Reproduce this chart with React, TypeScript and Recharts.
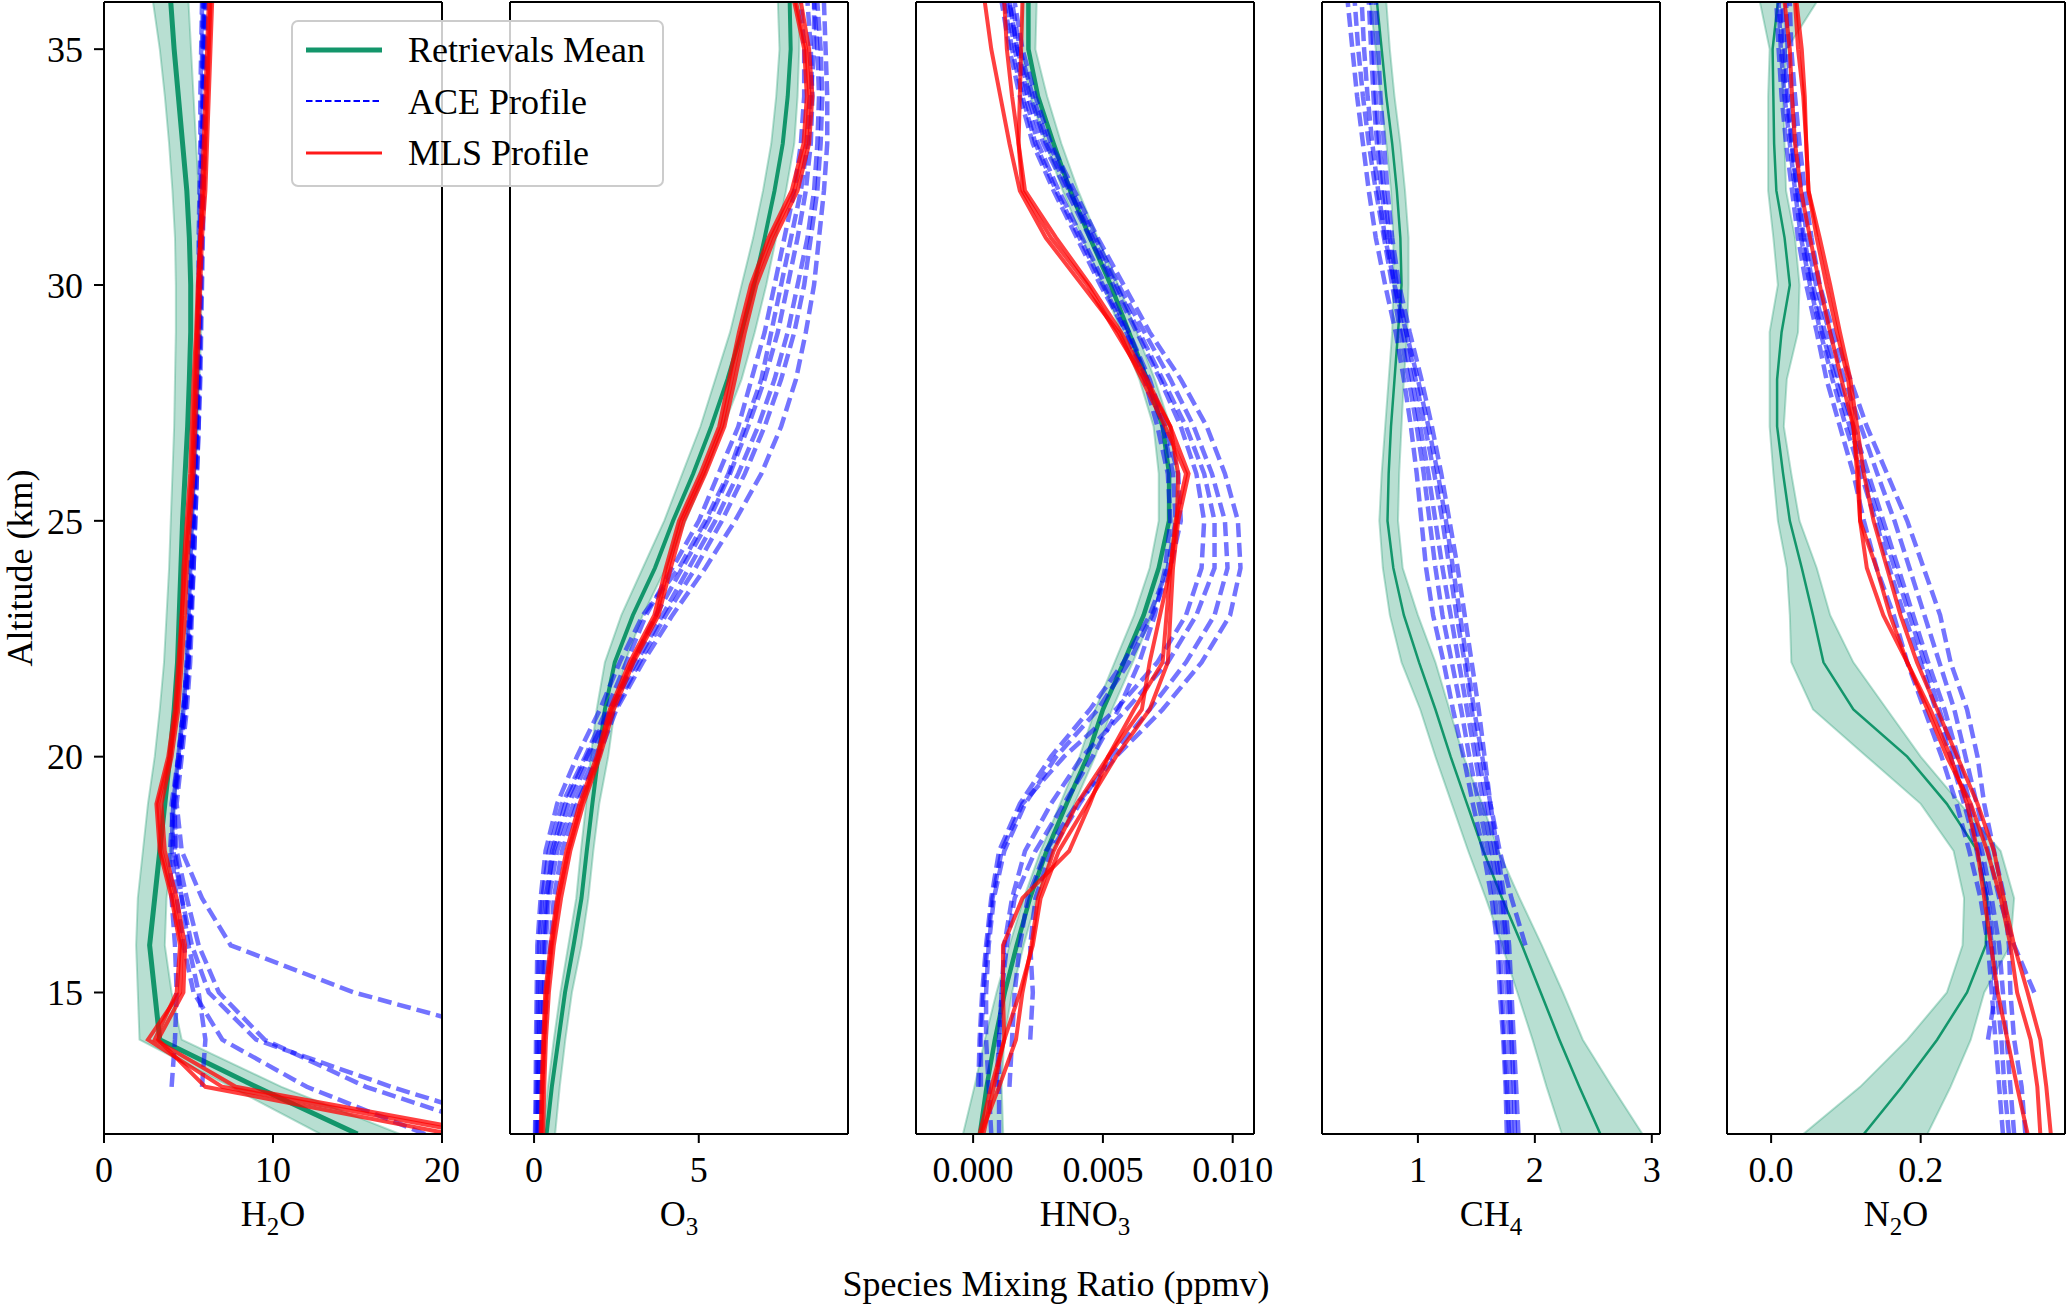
import React from 'react';
import { Area, ComposedChart, Line, XAxis, YAxis } from 'recharts';

const FONT = '"Liberation Serif", "Times New Roman", serif';
const GREEN = '#13966b';
const BLUE = '#0000ff';
const RED = '#ff0000';

// altitude grid (km), bottom to top
const altitudes = [12, 13, 14, 15, 16, 17, 18, 19, 20, 21, 22, 23, 24, 25, 26, 27, 28, 29, 30, 31, 32, 33, 34, 35, 36];
const altitudeTicks = [15, 20, 25, 30, 35];

// H2O (ppmv)
const h2oMean = [15.0, 9.0, 3.3, 3.0, 2.7, 3.0, 3.3, 3.6, 3.9, 4.15, 4.35, 4.45, 4.55, 4.65, 4.8, 4.95, 5.05, 5.13, 5.13, 5.05, 4.9, 4.65, 4.4, 4.15, 3.95];
const h2oLo = [12.8, 7.5, 2.1, 2.0, 1.9, 2.0, 2.3, 2.6, 3.0, 3.3, 3.55, 3.7, 3.85, 3.95, 4.05, 4.15, 4.2, 4.25, 4.25, 4.2, 4.05, 3.85, 3.6, 3.3, 2.9];
const h2oHi = [17.5, 10.5, 4.6, 4.0, 3.6, 3.7, 4.0, 4.2, 4.4, 4.7, 4.9, 5.0, 5.1, 5.25, 5.4, 5.55, 5.65, 5.75, 5.75, 5.7, 5.6, 5.45, 5.3, 5.15, 5.0];
const h2oAce1 = [null, null, 25, 14.8, 7.5, 5.8, 4.6, 4.3, 4.6, 4.9, 5.1, 5.2, 5.3, 5.4, 5.5, 5.6, 5.65, 5.7, 5.75, 5.8, 5.85, 5.9, 5.9, 5.95, 6.0];
const h2oAce2 = [24, 15.5, 9.5, 6.8, 5.6, 4.9, 4.3, 4.1, 4.5, 4.8, 5.0, 5.1, 5.2, 5.3, 5.4, 5.5, 5.55, 5.6, 5.65, 5.7, 5.75, 5.8, 5.85, 5.85, 5.9];
const h2oAce3 = [26, 17, 9.0, 6.2, 5.2, 4.6, 4.1, 4.0, 4.4, 4.7, 4.9, 5.05, 5.15, 5.25, 5.35, 5.45, 5.5, 5.55, 5.6, 5.65, 5.7, 5.75, 5.8, 5.8, 5.85];
const h2oAce4 = [null, 4.0, 4.2, 4.3, 4.2, 4.0, 3.9, 4.1, 4.4, 4.7, 4.95, 5.1, 5.2, 5.3, 5.4, 5.5, 5.6, 5.65, 5.7, 5.75, 5.8, 5.85, 5.9, 5.9, 5.95];
const h2oAce5 = [null, 5.8, 6.0, 5.6, 5.0, 4.6, 4.2, 4.2, 4.5, 4.8, 5.0, 5.15, 5.3, 5.4, 5.5, 5.6, 5.7, 5.75, 5.8, 5.85, 5.9, 5.95, 6.0, 6.0, 6.05];
const h2oAce6 = [19, 12, 7.0, 5.3, 4.7, 4.3, 4.0, 4.1, 4.4, 4.7, 4.9, 5.0, 5.1, 5.2, 5.3, 5.4, 5.5, 5.55, 5.6, 5.6, 5.65, 5.7, 5.7, 5.75, 5.8];
const h2oMls1 = [22, 7.0, 2.6, 4.5, 4.6, 4.1, 3.4, 3.2, 3.9, 4.3, 4.5, 4.6, 4.8, 5.0, 5.2, 5.3, 5.4, 5.5, 5.6, 5.7, 5.8, 5.9, 6.0, 6.1, 6.2];
const h2oMls2 = [20.5, 6.0, 3.2, 4.7, 4.8, 4.3, 3.6, 3.4, 4.0, 4.4, 4.6, 4.8, 4.9, 5.1, 5.3, 5.4, 5.5, 5.6, 5.7, 5.8, 6.0, 6.1, 6.2, 6.3, 6.4];
const h2oMls3 = [23, 7.8, 3.0, 4.3, 4.5, 4.0, 3.3, 3.1, 3.8, 4.2, 4.4, 4.6, 4.7, 4.9, 5.1, 5.2, 5.3, 5.45, 5.55, 5.7, 5.9, 6.0, 6.1, 6.2, 6.3];

// O3 (ppmv)
const o3Mean = [0.38, 0.54, 0.74, 0.94, 1.2, 1.44, 1.6, 1.77, 1.95, 2.15, 2.45, 3.0, 3.67, 4.22, 4.83, 5.38, 5.87, 6.3, 6.68, 7.0, 7.3, 7.55, 7.7, 7.79, 7.76];
const o3Lo = [0.28, 0.42, 0.6, 0.8, 1.04, 1.28, 1.42, 1.58, 1.72, 1.9, 2.15, 2.65, 3.3, 3.95, 4.5, 5.05, 5.5, 5.95, 6.3, 6.65, 6.95, 7.2, 7.35, 7.45, 7.4];
const o3Hi = [0.64, 0.78, 0.95, 1.15, 1.44, 1.65, 1.8, 1.98, 2.25, 2.45, 2.76, 3.3, 4.0, 4.6, 5.2, 5.75, 6.3, 6.7, 7.05, 7.35, 7.65, 7.9, 8.0, 8.05, 8.06];
const o3Ace1 = [0.05, 0.08, 0.1, 0.12, 0.15, 0.25, 0.45, 0.85, 1.55, 2.2, 2.8, 3.4, 4.2, 5.0, 5.6, 6.2, 6.6, 7.0, 7.3, 7.6, 7.9, 8.1, 8.2, 8.2, 8.1];
const o3Ace2 = [0.1, 0.12, 0.15, 0.2, 0.25, 0.35, 0.6, 1.05, 1.7, 2.35, 3.0, 3.7, 4.5, 5.3, 5.95, 6.5, 7.0, 7.4, 7.7, 8.0, 8.25, 8.4, 8.45, 8.4, 8.3];
const o3Ace3 = [0.15, 0.2, 0.25, 0.3, 0.35, 0.45, 0.7, 1.2, 1.85, 2.45, 3.2, 4.0, 4.9, 5.7, 6.4, 7.0, 7.5, 7.9, 8.2, 8.4, 8.6, 8.7, 8.75, 8.7, 8.6];
const o3Ace4 = [0.2, 0.25, 0.3, 0.4, 0.5, 0.6, 0.85, 1.3, 1.95, 2.5, 3.3, 4.2, 5.2, 6.1, 6.9, 7.5, 7.95, 8.25, 8.5, 8.65, 8.8, 8.9, 8.9, 8.85, 8.8];
const o3Ace5 = [0.03, 0.05, 0.06, 0.08, 0.1, 0.2, 0.35, 0.7, 1.3, 2.0, 2.6, 3.3, 4.4, 5.2, 5.9, 6.4, 6.9, 7.2, 7.5, 7.8, 8.1, 8.3, 8.4, 8.5, 8.5];
const o3Ace6 = [0.12, 0.15, 0.2, 0.25, 0.3, 0.4, 0.55, 0.95, 1.6, 2.3, 3.1, 3.9, 4.7, 5.5, 6.2, 6.8, 7.3, 7.7, 8.0, 8.3, 8.5, 8.6, 8.65, 8.6, 8.5];
const o3Mls1 = [0.23, 0.26, 0.31, 0.38, 0.54, 0.74, 1.04, 1.44, 1.95, 2.35, 2.96, 3.72, 4.07, 4.47, 5.13, 5.7, 6.0, 6.3, 6.65, 7.2, 7.9, 8.26, 8.36, 8.26, 7.95];
const o3Mls2 = [0.28, 0.31, 0.36, 0.45, 0.6, 0.82, 1.1, 1.5, 2.0, 2.42, 3.02, 3.78, 4.15, 4.55, 5.2, 5.78, 6.1, 6.4, 6.75, 7.3, 8.0, 8.35, 8.45, 8.35, 8.1];
const o3Mls3 = [0.2, 0.23, 0.28, 0.34, 0.5, 0.7, 0.98, 1.38, 1.9, 2.3, 2.9, 3.65, 4.0, 4.4, 5.05, 5.62, 5.92, 6.22, 6.58, 7.12, 7.82, 8.18, 8.28, 8.2, 7.9];

// HNO3 (1e-3 ppmv)
const hno3Mean = [0.26, 0.52, 0.84, 1.22, 1.68, 2.19, 2.83, 3.6, 4.4, 5.0, 5.8, 6.57, 7.15, 7.55, 7.55, 7.3, 6.7, 6.0, 5.3, 4.5, 3.74, 3.1, 2.5, 2.13, 2.13];
const hno3Lo = [-0.39, 0.05, 0.45, 0.9, 1.4, 1.95, 2.6, 3.35, 4.1, 4.7, 5.45, 6.2, 6.8, 7.15, 7.15, 6.95, 6.4, 5.7, 5.0, 4.2, 3.45, 2.8, 2.2, 1.85, 1.9];
const hno3Hi = [1.16, 1.1, 1.2, 1.5, 1.95, 2.45, 3.1, 3.9, 4.7, 5.35, 6.15, 6.9, 7.45, 7.85, 7.85, 7.6, 7.0, 6.3, 5.6, 4.8, 4.05, 3.4, 2.85, 2.4, 2.45];
const hno3Ace1 = [null, 0.9, 1.0, 1.1, 1.3, 1.6, 2.4, 3.5, 4.6, 5.6, 6.4, 7.0, 7.4, 7.6, 7.5, 7.1, 6.6, 5.9, 5.0, 4.1, 3.2, 2.4, 1.9, 1.5, 1.2];
const hno3Ace2 = [0.7, 0.6, 0.5, 0.5, 0.6, 0.8, 1.2, 2.0, 3.2, 4.8, 6.0, 6.9, 7.6, 8.0, 7.9, 7.4, 6.8, 6.0, 5.1, 4.2, 3.3, 2.5, 2.0, 1.6, 1.3];
const hno3Ace3 = [null, 0.3, 0.3, 0.4, 0.55, 0.75, 1.1, 1.9, 3.5, 5.5, 7.1, 8.2, 8.8, 8.9, 8.6, 8.0, 7.2, 6.3, 5.4, 4.5, 3.6, 2.7, 2.1, 1.7, 1.4];
const hno3Ace4 = [null, null, 2.2, 2.3, 2.2, 2.4, 3.0, 4.1, 5.3, 6.8, 8.2, 9.3, 9.8, 9.7, 9.2, 8.5, 7.6, 6.6, 5.6, 4.7, 3.8, 2.9, 2.3, 1.8, 1.5];
const hno3Ace5 = [null, 1.4, 1.5, 1.6, 1.8, 2.1, 2.8, 4.0, 5.5, 7.3, 8.8, 9.9, 10.3, 10.2, 9.7, 9.0, 8.0, 6.8, 5.8, 4.8, 3.9, 3.0, 2.4, 1.9, 1.6];
const hno3Ace6 = [1.0, 1.0, 1.0, 1.1, 1.2, 1.5, 2.0, 3.0, 4.2, 5.9, 7.5, 8.6, 9.3, 9.3, 8.9, 8.2, 7.3, 6.4, 5.5, 4.6, 3.7, 2.8, 2.2, 1.7, 1.4];
const hno3Ace7 = [null, 0.2, 0.25, 0.35, 0.5, 0.7, 1.0, 1.8, 3.0, 4.5, 5.8, 6.8, 7.5, 7.8, 7.7, 7.3, 6.7, 5.9, 4.9, 4.0, 3.1, 2.3, 1.8, 1.4, 1.1];
const hno3Mls1 = [0.4, 0.8, 1.2, 1.15, 1.15, 1.9, 3.7, 4.5, 5.2, 6.2, 7.3, 7.45, 7.6, 7.8, 8.2, 7.4, 6.5, 5.6, 4.2, 2.8, 1.8, 1.4, 1.05, 0.7, 0.45];
const hno3Mls2 = [0.3, 1.0, 1.65, 1.9, 2.25, 2.5, 3.1, 4.0, 5.2, 6.5, 6.8, 7.2, 7.6, 7.85, 7.9, 7.6, 6.7, 5.7, 4.5, 3.2, 2.0, 1.75, 1.5, 1.3, 1.2];
const hno3Mls3 = [0.25, 0.7, 1.2, 1.8, 2.3, 2.6, 3.3, 4.4, 5.5, 6.8, 7.5, 7.6, 7.7, 7.9, 8.3, 7.6, 6.6, 5.5, 4.4, 3.0, 1.9, 1.75, 1.8, 1.85, 1.9];

// CH4 (ppmv)
const ch4Mean = [2.56, 2.38, 2.21, 2.05, 1.89, 1.72, 1.56, 1.42, 1.28, 1.15, 1.01, 0.88, 0.79, 0.74, 0.75, 0.77, 0.8, 0.83, 0.86, 0.85, 0.82, 0.78, 0.73, 0.69, 0.65];
const ch4Lo = [2.23, 2.1, 1.98, 1.85, 1.72, 1.58, 1.43, 1.29, 1.15, 1.02, 0.86, 0.76, 0.7, 0.67, 0.69, 0.72, 0.75, 0.78, 0.79, 0.79, 0.77, 0.73, 0.68, 0.64, 0.59];
const ch4Hi = [2.92, 2.66, 2.41, 2.24, 2.06, 1.87, 1.69, 1.55, 1.39, 1.27, 1.15, 1.0, 0.87, 0.83, 0.84, 0.86, 0.88, 0.91, 0.92, 0.92, 0.89, 0.85, 0.8, 0.76, 0.73];
const ch4Ace1 = [1.76, 1.75, 1.73, 1.7, 1.68, 1.63, 1.56, 1.47, 1.39, 1.3, 1.22, 1.13, 1.07, 1.03, 0.99, 0.94, 0.88, 0.81, 0.72, 0.64, 0.58, 0.53, 0.48, 0.44, 0.4];
const ch4Ace2 = [1.8, 1.79, 1.78, 1.76, 1.74, 1.7, 1.63, 1.56, 1.49, 1.42, 1.35, 1.28, 1.21, 1.15, 1.09, 1.02, 0.95, 0.87, 0.8, 0.74, 0.69, 0.65, 0.62, 0.6, 0.58];
const ch4Ace3 = [1.86, 1.84, 1.82, 1.8, 1.78, 1.74, 1.68, 1.62, 1.57, 1.52, 1.46, 1.4, 1.34, 1.27, 1.2, 1.12, 1.03, 0.93, 0.84, 0.78, 0.74, 0.71, 0.68, 0.66, 0.64];
const ch4Ace4 = [null, null, null, null, 1.92, 1.8, 1.7, 1.62, 1.55, 1.48, 1.42, 1.36, 1.3, 1.24, 1.17, 1.09, 1.0, 0.9, 0.8, 0.72, 0.66, 0.61, 0.57, 0.54, 0.52];
const ch4Ace5 = [1.78, 1.76, 1.74, 1.72, 1.7, 1.66, 1.6, 1.52, 1.44, 1.37, 1.29, 1.21, 1.15, 1.1, 1.05, 0.99, 0.92, 0.85, 0.78, 0.71, 0.64, 0.58, 0.53, 0.49, 0.46];
const ch4Ace6 = [1.83, 1.82, 1.8, 1.78, 1.76, 1.72, 1.66, 1.59, 1.52, 1.46, 1.4, 1.33, 1.27, 1.21, 1.14, 1.06, 0.98, 0.9, 0.82, 0.76, 0.71, 0.67, 0.64, 0.62, 0.6];

// N2O (ppmv)
const n2oMean = [0.124, 0.175, 0.222, 0.262, 0.287, 0.289, 0.276, 0.235, 0.182, 0.11, 0.07, 0.056, 0.041, 0.025, 0.016, 0.008, 0.008, 0.014, 0.025, 0.018, 0.007, 0.004, 0.003, 0.002, 0.009];
const n2oLo = [0.043, 0.119, 0.182, 0.235, 0.256, 0.258, 0.244, 0.2, 0.128, 0.056, 0.027, 0.025, 0.021, 0.009, 0.003, -0.002, -0.002, -0.002, 0.009, 0.003, -0.004, -0.004, -0.004, -0.002, -0.015];
const n2oHi = [0.209, 0.24, 0.267, 0.285, 0.32, 0.325, 0.307, 0.253, 0.2, 0.155, 0.11, 0.079, 0.061, 0.038, 0.027, 0.017, 0.021, 0.036, 0.038, 0.032, 0.02, 0.018, 0.016, 0.021, 0.061];
const n2oAce1 = [0.31, 0.305, 0.3, 0.295, 0.29, 0.28, 0.265, 0.248, 0.228, 0.205, 0.182, 0.164, 0.141, 0.124, 0.11, 0.092, 0.074, 0.061, 0.047, 0.036, 0.028, 0.02, 0.014, 0.01, 0.007];
const n2oAce2 = [0.325, 0.32, 0.315, 0.31, 0.305, 0.295, 0.282, 0.266, 0.25, 0.232, 0.21, 0.19, 0.17, 0.15, 0.13, 0.11, 0.09, 0.072, 0.056, 0.044, 0.035, 0.027, 0.02, 0.015, 0.012];
const n2oAce3 = [0.34, 0.335, 0.325, 0.32, 0.318, 0.312, 0.298, 0.285, 0.276, 0.262, 0.24, 0.226, 0.204, 0.182, 0.155, 0.128, 0.106, 0.083, 0.065, 0.054, 0.045, 0.038, 0.032, 0.027, 0.025];
const n2oAce4 = [null, null, null, 0.352, 0.325, 0.305, 0.29, 0.275, 0.26, 0.245, 0.225, 0.205, 0.185, 0.165, 0.142, 0.12, 0.098, 0.078, 0.06, 0.048, 0.04, 0.033, 0.027, 0.022, 0.02];
const n2oAce5 = [null, null, 0.29, 0.3, 0.295, 0.288, 0.275, 0.258, 0.24, 0.22, 0.2, 0.178, 0.158, 0.14, 0.12, 0.1, 0.082, 0.066, 0.052, 0.04, 0.032, 0.025, 0.018, 0.013, 0.01];
const n2oAce6 = [0.318, 0.312, 0.308, 0.302, 0.298, 0.29, 0.278, 0.262, 0.245, 0.225, 0.205, 0.185, 0.165, 0.145, 0.125, 0.105, 0.086, 0.068, 0.053, 0.042, 0.034, 0.028, 0.022, 0.018, 0.015];
const n2oMls1 = [0.343, 0.329, 0.316, 0.303, 0.294, 0.285, 0.276, 0.262, 0.24, 0.213, 0.182, 0.15, 0.128, 0.119, 0.117, 0.11, 0.094, 0.079, 0.065, 0.052, 0.04, 0.032, 0.028, 0.025, 0.018];
const n2oMls2 = [0.36, 0.356, 0.347, 0.329, 0.32, 0.307, 0.289, 0.267, 0.235, 0.209, 0.182, 0.159, 0.141, 0.119, 0.115, 0.11, 0.103, 0.088, 0.074, 0.061, 0.05, 0.047, 0.043, 0.036, 0.032];
const n2oMls3 = [0.374, 0.368, 0.36, 0.343, 0.325, 0.311, 0.298, 0.276, 0.249, 0.222, 0.195, 0.173, 0.155, 0.137, 0.124, 0.115, 0.106, 0.092, 0.079, 0.065, 0.05, 0.047, 0.045, 0.041, 0.034];

// x ticks per panel
const h2oTicks = [0, 10, 20];
const o3Ticks = [0, 5];
const hno3Ticks = [0, 5, 10];
const ch4Ticks = [1, 2, 3];
const n2oTicks = [0, 0.2];

const legendLabels = ['Retrievals Mean', 'ACE Profile', 'MLS Profile'];

// plot geometry (page px)
const PLOT_W = 338;
const PLOT_H = 1132;
const Y_AXIS_W = 100;
const X_AXIS_H = 60;
const RIGHT_PAD = 60; // room for edge tick labels

const tickStyle = { fill: '#000', fontSize: 36, fontFamily: FONT };

function ProfilePanel({ left, domain, ticks, format, mean, lo, hi, ace, mls, meanWidth, showAltitude }: any) {
  const rows = altitudes.map((alt, i) => {
    const row: Record<string, any> = { alt, mean: mean[i], band: [lo[i], hi[i]] };
    ace.forEach((s: (number | null)[], k: number) => (row[`ace${k}`] = s[i]));
    mls.forEach((s: number[], k: number) => (row[`mls${k}`] = s[i]));
    return row;
  });

  return (
    <div style={{ position: 'absolute', left: left - Y_AXIS_W, top: 0 }}>
      <ComposedChart
        layout="vertical"
        width={Y_AXIS_W + PLOT_W + 1 + RIGHT_PAD}
        height={1 + 1 + PLOT_H + X_AXIS_H}
        data={rows}
        margin={{ top: 1, right: RIGHT_PAD, bottom: 0, left: 0 }}
      >
        <XAxis
          type="number"
          domain={domain}
          allowDataOverflow
          ticks={ticks}
          interval={0}
          tickFormatter={format}
          height={X_AXIS_H}
          tickSize={9}
          tickMargin={13}
          axisLine={{ stroke: '#000', strokeWidth: 2 }}
          tickLine={{ stroke: '#000', strokeWidth: 2 }}
          tick={tickStyle}
        />
        <XAxis
          xAxisId="top"
          orientation="top"
          type="number"
          domain={[0, 1]}
          height={1}
          tick={false}
          tickLine={false}
          axisLine={{ stroke: '#000', strokeWidth: 2 }}
        />
        <YAxis
          type="number"
          dataKey="alt"
          domain={[12, 36]}
          reversed
          allowDataOverflow
          ticks={altitudeTicks}
          interval={0}
          width={Y_AXIS_W}
          tickSize={10}
          tickMargin={11}
          axisLine={{ stroke: '#000', strokeWidth: 2 }}
          tickLine={{ stroke: '#000', strokeWidth: 2 }}
          tick={showAltitude ? tickStyle : false}
        />
        <YAxis
          yAxisId="right"
          orientation="right"
          type="number"
          domain={[0, 1]}
          width={1}
          tick={false}
          tickLine={false}
          axisLine={{ stroke: '#000', strokeWidth: 2 }}
        />
        <Area
          dataKey="band"
          type="linear"
          fill={GREEN}
          fillOpacity={0.3}
          stroke={GREEN}
          strokeOpacity={0.3}
          strokeWidth={2}
          dot={false}
          activeDot={false}
          isAnimationActive={false}
        />
        <Line
          dataKey="mean"
          type="linear"
          stroke={GREEN}
          strokeWidth={meanWidth}
          dot={false}
          activeDot={false}
          isAnimationActive={false}
        />
        {ace.map((_: unknown, k: number) => (
          <Line
            key={`ace${k}`}
            dataKey={`ace${k}`}
            type="linear"
            stroke={BLUE}
            strokeOpacity={0.55}
            strokeWidth={4.5}
            strokeDasharray="14 6"
            dot={false}
            activeDot={false}
            isAnimationActive={false}
          />
        ))}
        {mls.map((_: unknown, k: number) => (
          <Line
            key={`mls${k}`}
            dataKey={`mls${k}`}
            type="linear"
            stroke={RED}
            strokeOpacity={0.75}
            strokeWidth={4}
            dot={false}
            activeDot={false}
            isAnimationActive={false}
          />
        ))}
      </ComposedChart>
    </div>
  );
}

const panels = [
  { left: 104, domain: [0, 20], ticks: h2oTicks, format: (v: number) => String(v), mean: h2oMean, lo: h2oLo, hi: h2oHi, ace: [h2oAce1, h2oAce2, h2oAce3, h2oAce4, h2oAce5, h2oAce6], mls: [h2oMls1, h2oMls2, h2oMls3], meanWidth: 5, label: ['H', '2', 'O'] },
  { left: 510, domain: [-0.73, 9.53], ticks: o3Ticks, format: (v: number) => String(v), mean: o3Mean, lo: o3Lo, hi: o3Hi, ace: [o3Ace1, o3Ace2, o3Ace3, o3Ace4, o3Ace5, o3Ace6], mls: [o3Mls1, o3Mls2, o3Mls3], meanWidth: 4, label: ['O', '3', ''] },
  { left: 916, domain: [-2.2, 10.82], ticks: hno3Ticks, format: (v: number) => (v / 1000).toFixed(3), mean: hno3Mean, lo: hno3Lo, hi: hno3Hi, ace: [hno3Ace1, hno3Ace2, hno3Ace3, hno3Ace4, hno3Ace5, hno3Ace6, hno3Ace7], mls: [hno3Mls1, hno3Mls2, hno3Mls3], meanWidth: 4.5, label: ['HNO', '3', ''] },
  { left: 1322, domain: [0.18, 3.07], ticks: ch4Ticks, format: (v: number) => String(v), mean: ch4Mean, lo: ch4Lo, hi: ch4Hi, ace: [ch4Ace1, ch4Ace2, ch4Ace3, ch4Ace4, ch4Ace5, ch4Ace6], mls: [], meanWidth: 2.5, label: ['CH', '4', ''] },
  { left: 1727, domain: [-0.059, 0.393], ticks: n2oTicks, format: (v: number) => v.toFixed(1), mean: n2oMean, lo: n2oLo, hi: n2oHi, ace: [n2oAce1, n2oAce2, n2oAce3, n2oAce4, n2oAce5, n2oAce6], mls: [n2oMls1, n2oMls2, n2oMls3], meanWidth: 2.5, label: ['N', '2', 'O'] },
];

const textBox = {
  position: 'absolute' as const,
  height: 40,
  lineHeight: '40px',
  fontSize: 36,
  textAlign: 'center' as const,
  whiteSpace: 'nowrap' as const,
  color: '#000',
};

function LegendBox() {
  return (
    <div
      style={{
        position: 'absolute',
        left: 291,
        top: 20,
        width: 369,
        height: 163,
        border: '2px solid #cccccc',
        borderRadius: 7,
        background: 'rgba(255,255,255,0.8)',
        zIndex: 10,
      }}
    >
      <svg width={100} height={163} style={{ position: 'absolute', left: 0, top: 0 }}>
        <line x1={13} x2={89} y1={28} y2={28} stroke={GREEN} strokeWidth={5} />
        <line x1={13} x2={89} y1={79} y2={79} stroke={BLUE} strokeWidth={2.2} strokeDasharray="6.5 3" />
        <line x1={13} x2={89} y1={131} y2={131} stroke={RED} strokeOpacity={0.9} strokeWidth={3} />
      </svg>
      {legendLabels.map((t, i) => (
        <div key={t} style={{ ...textBox, left: 115, top: 8 + i * 51.5, textAlign: 'left' }}>
          {t}
        </div>
      ))}
    </div>
  );
}

export default function App() {
  return (
    <div
      style={{
        position: 'absolute',
        left: 0,
        top: 0,
        width: 2067,
        height: 1308,
        overflow: 'hidden',
        background: '#fff',
        fontFamily: FONT,
      }}
    >
      {panels.map((p, i) => (
        <ProfilePanel key={i} {...p} showAltitude={i === 0} />
      ))}
      {panels.map((p, i) => (
        <div key={`lab${i}`} style={{ ...textBox, left: p.left + PLOT_W / 2 - 150, width: 300, top: 1194 }}>
          {p.label[0]}
          <span style={{ fontSize: 25, position: 'relative', top: 9 }}>{p.label[1]}</span>
          {p.label[2]}
        </div>
      ))}
      <div style={{ ...textBox, left: 1056 - 300, width: 600, top: 1264 }}>Species Mixing Ratio (ppmv)</div>
      <div style={{ ...textBox, left: 20 - 200, width: 400, top: 568 - 20, transform: 'rotate(-90deg)' }}>
        Altitude (km)
      </div>
      <LegendBox />
    </div>
  );
}
